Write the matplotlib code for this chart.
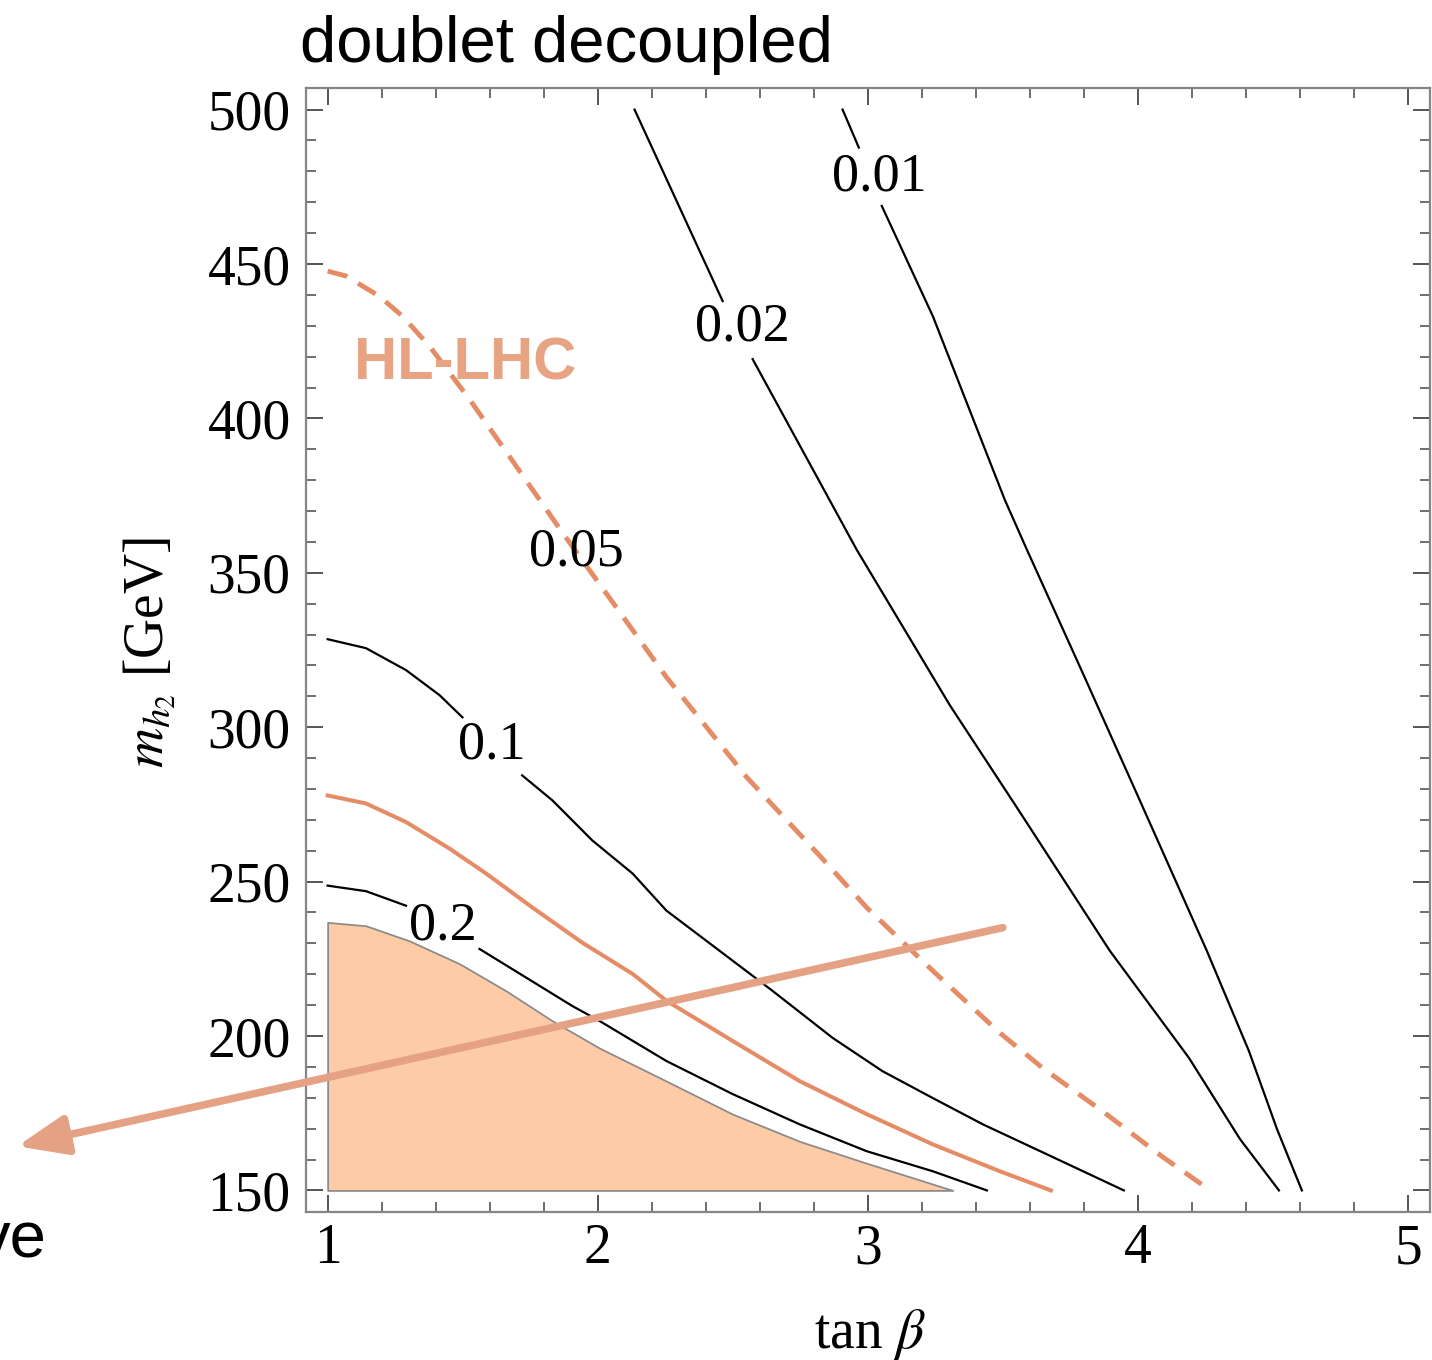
import matplotlib.pyplot as plt
import numpy as np

plt.rcParams["mathtext.fontset"] = "stix"

# contour lines in the (tan beta, m_h2) plane; each line is broken where its label sits
tb_001 = [2.906, 2.966, 3.051, 3.240, 3.506, 3.588, 3.795, 4.006, 4.254, 4.410, 4.514, 4.591, 4.606]
mh_001 = [500, 487.7, 468.8, 433.1, 373.7, 357.5, 317.5, 276.3, 227.6, 195.1, 169.8, 153.2, 150]
gap_001 = 2

tb_002 = [2.136, 2.462, 2.573, 2.958, 3.303, 3.551, 3.895, 4.188, 4.377, 4.521]
mh_002 = [500, 438.0, 419.2, 357.5, 307.1, 274.0, 227.6, 192.9, 166.6, 150]
gap_002 = 2

tb_01 = [1.0, 1.142, 1.290, 1.414, 1.499, 1.720, 1.832, 1.980, 2.129, 2.254, 2.499,
         2.647, 2.869, 3.054, 3.240, 3.425, 3.662, 3.947]
mh_01 = [328.5, 325.6, 318.5, 310.4, 303.2, 284.4, 276.3, 263.3, 252.6, 240.6, 224.4,
         214.6, 199.4, 188.6, 179.9, 171.4, 161.7, 150]
gap_01 = 5

tb_02 = [1.0, 1.142, 1.290, 1.562, 1.735, 1.906, 2.006, 2.254, 2.499, 2.747, 2.995, 3.240, 3.440]
mh_02 = [248.7, 246.9, 242.2, 228.2, 218.9, 209.7, 204.9, 191.9, 181.2, 171.4, 162.7, 156.2, 150]
gap_02 = 3

# HL-LHC reach (0.05 contour, dashed) and current bound (solid)
tb_hl = [1.0, 1.068, 1.191, 1.277, 1.377, 1.525, 1.699, 1.869, 2.043, 2.254, 2.551,
         2.821, 2.995, 3.240, 3.488, 3.647, 3.873, 4.088, 4.262]
mh_hl = [447.7, 446.1, 439.6, 433.1, 423.4, 406.2, 384.4, 363.0, 341.9, 316.2, 283.8,
         258.4, 241.6, 221.1, 201.0, 189.6, 175.3, 161.0, 150.3]

tb_now = [1.0, 1.142, 1.290, 1.451, 1.587, 1.758, 1.943, 2.129, 2.254, 2.499, 2.747,
          2.995, 3.240, 3.488, 3.677]
mh_now = [277.9, 275.3, 269.3, 260.7, 252.6, 241.6, 230.2, 220.1, 211.4, 198.4, 185.4,
          174.7, 164.9, 156.2, 150]

# excluded region
tb_excl = [1.0, 1.142, 1.303, 1.488, 1.661, 1.832, 2.006, 2.254, 2.499, 2.747, 2.995, 3.314]
mh_excl = [236.8, 235.7, 230.8, 223.4, 214.6, 204.9, 196.1, 185.4, 174.7, 165.9, 158.8, 150]

contour_labels = ["0.01", "0.02", "0.05", "0.1", "0.2"]
label_tb = [3.043, 2.536, 1.921, 1.606, 1.425]
label_mh = [478.2, 429.5, 356.8, 294.2, 235.7]

orange = "#E58C66"

fig = plt.figure(figsize=(14.32, 13.6), dpi=100)
ax = fig.add_axes([0.2137, 0.1088, 0.7849, 0.8265])

ax.fill_between(tb_excl, mh_excl, 150, facecolor="#FDCCA7", edgecolor="#8c8c8c",
                linewidth=1.3, zorder=1)

for tb, mh, g in [(tb_001, mh_001, gap_001), (tb_002, mh_002, gap_002),
                  (tb_01, mh_01, gap_01), (tb_02, mh_02, gap_02)]:
    ax.plot(tb[:g], mh[:g], color="black", lw=1.6, zorder=3)
    ax.plot(tb[g:], mh[g:], color="black", lw=1.6, zorder=3)

ax.plot(tb_hl, mh_hl, color=orange, lw=3.5, linestyle=(0, (4.2, 2.6)), zorder=3)
ax.plot(tb_now, mh_now, color=orange, lw=2.9, zorder=3)

for txt, x, y in zip(contour_labels, label_tb, label_mh):
    ax.text(x, y, txt, ha="center", va="center", fontsize=39,
            family="Liberation Serif", zorder=4)

ax.text(1.099, 412.7, "HL-LHC", color="#E8A482", fontsize=43, fontweight="bold",
        family="Liberation Sans", ha="left", va="baseline", zorder=4)

ax.annotate("", xy=(-0.149, 164.3), xytext=(3.499, 235.1),
            arrowprops=dict(arrowstyle="-|>,head_length=0.5,head_width=0.2",
                            mutation_scale=60, lw=5.5, color="#E4A183",
                            shrinkA=0, shrinkB=0),
            annotation_clip=False, zorder=5)

ax.set_xlim(0.92, 5.08)
ax.set_ylim(143, 507)
ax.set_xticks(np.arange(1, 6, 1))
ax.set_xticks(np.arange(1, 5.01, 0.2), minor=True)
ax.set_yticks(np.arange(150, 501, 50))
ax.set_yticks(np.arange(150, 501, 10), minor=True)

ax.tick_params(which="both", direction="in", top=True, right=True, color="#555555")
ax.tick_params(which="major", length=12, width=1.4, labelsize=40)
ax.tick_params(which="minor", length=7, width=1.2)
ax.tick_params(axis="y", pad=11)
ax.tick_params(axis="x", pad=8)
for lab in ax.get_xticklabels() + ax.get_yticklabels():
    lab.set_family("Liberation Serif")
for sp in ax.spines.values():
    sp.set_color("#858585")
    sp.set_linewidth(1.6)

ax.set_xlabel(r"tan $\beta$", fontsize=40, family="Liberation Serif", va="center")
ax.xaxis.set_label_coords(0.502, -0.109)
ax.set_ylabel(r"$m_{h_2}$ [GeV]", fontsize=40, family="Liberation Serif", va="center")
ax.yaxis.set_label_coords(-0.139, 0.498)

fig.text(300 / 1432, 1 - 62 / 1360, "doublet decoupled", fontsize=47,
         family="Liberation Sans", ha="left", va="baseline")
fig.text(47 / 1432, 1 - 1258 / 1360, "ve", fontsize=47,
         family="Liberation Sans", ha="right", va="baseline")

fig.savefig("out.png", dpi=100)
